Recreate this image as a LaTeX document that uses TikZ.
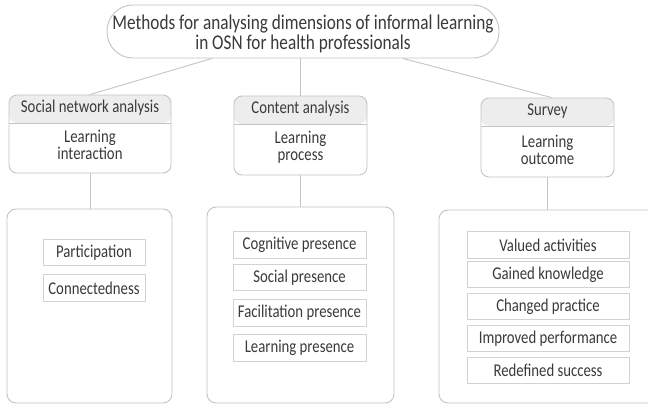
\documentclass[tikz,border=0pt]{standalone}
\usepackage{fontspec}
\setmainfont{Carlito}[FakeStretch=0.82]
\usetikzlibrary{calc}
\definecolor{txt}{HTML}{3A3A3A}
\definecolor{lin}{HTML}{C4C4C4}
\definecolor{hdr}{HTML}{EDEDED}
\definecolor{ibx}{HTML}{D2D2D2}
\tikzset{
  conn/.style={draw=lin, line width=0.9pt},
  topbox/.style={draw=lin, line width=0.9pt, rounded corners=26pt, minimum width=392pt, minimum height=53pt, inner sep=0pt},
  toplbl/.style={inner sep=0pt, align=center, text=txt, font=\fontsize{21}{20}\selectfont},
  catbox/.style={draw=lin, line width=0.9pt, rounded corners=8pt, inner sep=0pt,
    path picture={\fill[hdr] (path picture bounding box.north west) rectangle ([yshift=-28pt]path picture bounding box.north east);
      \draw[lin, line width=0.9pt] ([yshift=-28pt]path picture bounding box.north west) -- ([yshift=-28pt]path picture bounding box.north east);}},
  bigbox/.style={draw=lin, line width=0.9pt, rounded corners=9pt, inner sep=0pt},
  itembox/.style={draw=ibx, line width=0.9pt, inner sep=0pt, minimum height=26.5pt, text=txt, font=\fontsize{18}{17}\selectfont},
  lbl/.style={inner sep=0pt, text=txt, align=center, font=\fontsize{18}{17}\selectfont},
}
\begin{document}
\begin{tikzpicture}[x=1pt,y=-1pt]
\clip (0,0) rectangle (648,404);
\fill[white] (0,0) rectangle (648,404);
% top node
\node[topbox] (top) at (303,31.5) {};
\node[toplbl] (topT) at (303,33.5) {Methods for analysing dimensions of informal learning\\in OSN for health professionals};
% category boxes
\node[catbox, minimum width=162pt, minimum height=78pt] (snaB) at (90,134) {};
\node[catbox, minimum width=133pt, minimum height=79pt] (caB) at (300.5,135.5) {};
\node[catbox, minimum width=133pt, minimum height=79pt] (svB) at (547.5,137.5) {};
\node[lbl] (snaH) at ($(snaB.north)+(0,13.5)$) {Social network analysis};
\node[lbl] (caH) at ($(caB.north)+(0,13.5)$) {Content analysis};
\node[lbl] (svH) at ($(svB.north)+(0,13.5)$) {Survey};
\node[lbl] (snaT) at ($(snaB.north)+(0,50)$) {Learning\\interaction};
\node[lbl] (caT) at ($(caB.north)+(0,52)$) {Learning\\process};
\node[lbl] (svT) at ($(svB.north)+(0,52)$) {Learning\\outcome};
% connectors from top
\draw[conn] ([xshift=-91pt]top.south) -- (snaB.north);
\draw[conn] (top.south -| caB.north) -- (caB.north);
\draw[conn] ([xshift=100pt]top.south) -- ([xshift=4pt]svB.north);
% big boxes
\node[bigbox, minimum width=165pt, minimum height=194pt] (snaL) at (89.5,306) {};
\node[bigbox, minimum width=187pt, minimum height=196pt] (caL) at (300.5,305) {};
\node[bigbox, minimum width=218pt, minimum height=193pt] (svL) at (548,306.5) {};
\draw[conn] (snaB.south) -- (snaB.south |- snaL.north);
\draw[conn] (caB.south) -- (caB.south |- caL.north);
\draw[conn] (svB.south) -- (svB.south |- svL.north);
% items
\node[itembox, minimum width=102pt] (p1) at (94,252.5) {Participation};
\node[itembox, minimum width=102pt] (p2) at (94,288) {Connectedness};
\node[itembox, minimum width=133pt] (c1) at (299.5,245) {Cognitive presence};
\node[itembox, minimum width=133pt] (c2) at (299.5,277.5) {Social presence};
\node[itembox, minimum width=133pt] (c3) at (299.5,313) {Facilitation presence};
\node[itembox, minimum width=133pt] (c4) at (299.5,348) {Learning presence};
\node[itembox, minimum width=162pt] (s1) at (548,245) {Valued activities};
\node[itembox, minimum width=162pt] (s2) at (548,274.5) {Gained knowledge};
\node[itembox, minimum width=162pt] (s3) at (548,306.5) {Changed practice};
\node[itembox, minimum width=162pt] (s4) at (548,338.5) {Improved performance};
\node[itembox, minimum width=162pt] (s5) at (548,370.5) {Redefined success};
\end{tikzpicture}
\end{document}
